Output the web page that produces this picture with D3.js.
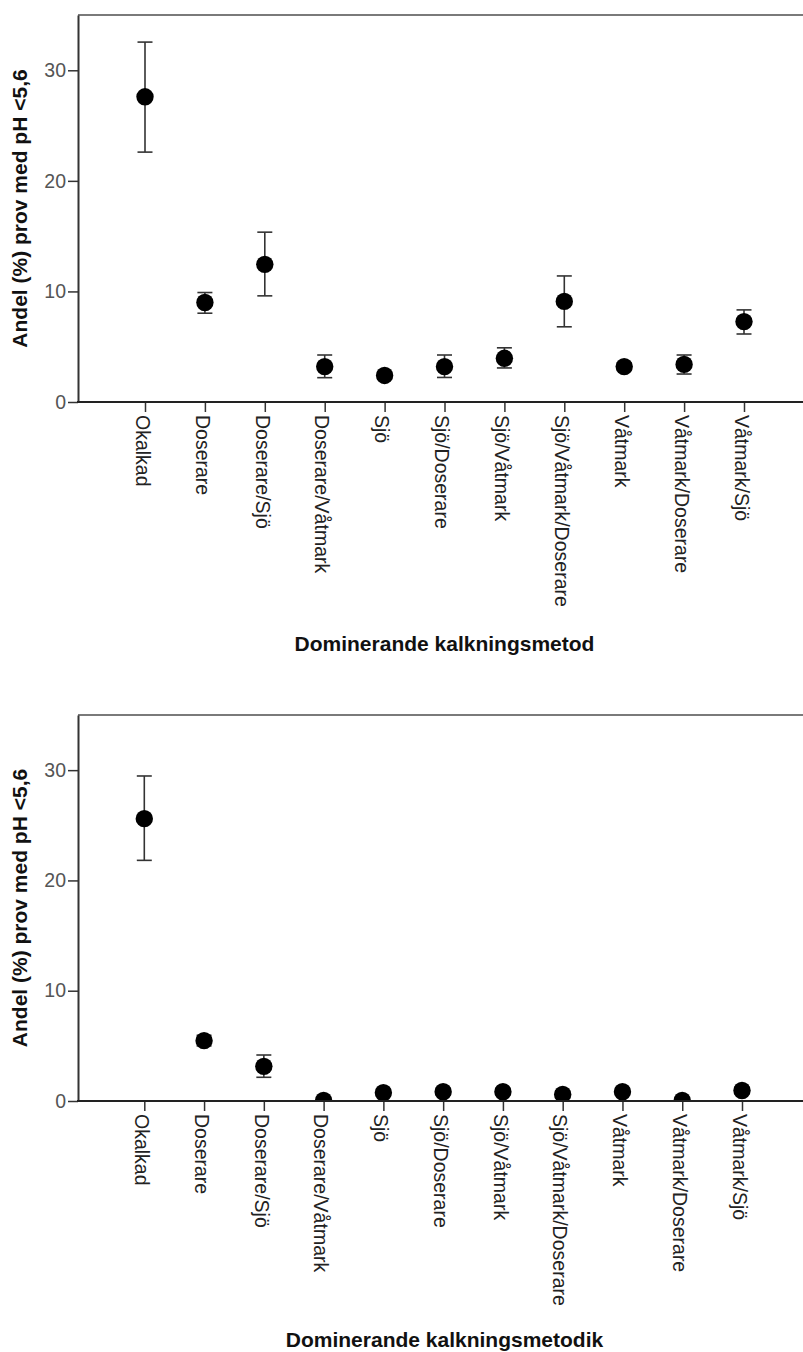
<!DOCTYPE html>
<html>
<head>
<meta charset="utf-8">
<script src="https://cdn.jsdelivr.net/npm/d3@7"></script>
<style>
  html, body { margin: 0; padding: 0; background: #fff; }
  svg { display: block; font-family: "Liberation Sans", Arial, Helvetica, sans-serif; }
</style>
</head>
<body>
<svg id="chart" width="803" height="1352"></svg>
<script>
// Categories: dominant liming method
const categories = [
  "Okalkad", "Doserare", "Doserare/Sjö", "Doserare/Våtmark", "Sjö",
  "Sjö/Doserare", "Sjö/Våtmark", "Sjö/Våtmark/Doserare", "Våtmark",
  "Våtmark/Doserare", "Våtmark/Sjö"
];

// Share (%) of samples with pH < 5.6 — mean with confidence interval
const meanMetod = [27.6, 9.0, 12.45, 3.2, 2.4, 3.2, 3.95, 9.1, 3.2, 3.4, 7.27];
const lowMetod  = [22.6, 8.03, 9.6, 2.2, 2.05, 2.22, 3.08, 6.8, 2.85, 2.53, 6.15];
const highMetod = [32.55, 9.9, 15.36, 4.25, 2.75, 4.25, 4.9, 11.4, 3.55, 4.25, 8.33];

const meanMetodik = [25.6, 5.47, 3.14, 0.05, 0.75, 0.84, 0.84, 0.6, 0.84, 0.05, 0.95];
const lowMetodik  = [21.82, 5.0, 2.15, 0.0, 0.45, 0.55, 0.55, 0.3, 0.55, 0.0, 0.65];
const highMetodik = [29.47, 5.95, 4.17, 0.25, 1.05, 1.15, 1.15, 0.9, 1.15, 0.25, 1.25];

const yTicks = [0, 10, 20, 30];
const yMax = 35;
const yTitle = "Andel (%) prov med pH <5,6";
const xTitles = ["Dominerande kalkningsmetod", "Dominerande kalkningsmetodik"];

const svg = d3.select("#chart");
const W = 803;
const plotLeft = 78;

const panels = [
  { mean: meanMetod, low: lowMetod, high: highMetod, title: xTitles[0],
    top: 15, bottom: 402, first: 145, last: 744, titleY: 651 },
  { mean: meanMetodik, low: lowMetodik, high: highMetodik, title: xTitles[1],
    top: 715, bottom: 1101, first: 144.3, last: 742, titleY: 1347 }
];

panels.forEach((p, pi) => {
  const g = svg.append("g");
  const x = d3.scalePoint().domain(categories).range([p.first, p.last]);
  const y = d3.scaleLinear().domain([0, yMax]).range([p.bottom, p.top]);

  const rows = categories.map((c, i) => ({ c, m: p.mean[i], lo: p.low[i], hi: p.high[i] }));

  // clip marks to the plot area
  const clipId = "clip" + pi;
  svg.append("clipPath").attr("id", clipId)
    .append("rect")
    .attr("x", plotLeft).attr("y", p.top)
    .attr("width", W - plotLeft).attr("height", p.bottom - p.top);

  // top frame line
  g.append("line")
    .attr("x1", plotLeft).attr("x2", W)
    .attr("y1", p.top).attr("y2", p.top)
    .attr("stroke", "#7a7a7a").attr("stroke-width", 2);

  // error bars
  const marks = g.append("g").attr("clip-path", `url(#${clipId})`);
  const cap = 7.5;
  const eb = marks.selectAll("g.eb").data(rows).join("g").attr("class", "eb")
    .attr("stroke", "#333").attr("stroke-width", 1.6);
  eb.append("line")
    .attr("x1", d => x(d.c)).attr("x2", d => x(d.c))
    .attr("y1", d => y(d.lo)).attr("y2", d => y(d.hi));
  eb.append("line")
    .attr("x1", d => x(d.c) - cap).attr("x2", d => x(d.c) + cap)
    .attr("y1", d => y(d.hi)).attr("y2", d => y(d.hi));
  eb.append("line")
    .attr("x1", d => x(d.c) - cap).attr("x2", d => x(d.c) + cap)
    .attr("y1", d => y(d.lo)).attr("y2", d => y(d.lo));

  // mean points
  marks.selectAll("circle").data(rows).join("circle")
    .attr("cx", d => x(d.c)).attr("cy", d => y(d.m))
    .attr("r", 8.7).attr("fill", "#000");

  // y axis
  const yAxis = g.append("g")
    .attr("transform", `translate(${plotLeft},0)`)
    .call(d3.axisLeft(y).tickValues(yTicks).tickSize(10).tickSizeOuter(0).tickPadding(2));
  yAxis.select(".domain").attr("stroke", "#333").attr("stroke-width", 2);
  yAxis.selectAll(".tick line").attr("stroke", "#333").attr("stroke-width", 1.5);
  yAxis.selectAll(".tick text")
    .attr("fill", "#555").style("font-size", "19.5px");

  // x axis
  const xAxis = g.append("g")
    .attr("transform", `translate(0,${p.bottom})`)
    .call(d3.axisBottom(x).tickSize(10).tickSizeOuter(0));
  xAxis.select(".domain").remove();
  xAxis.selectAll(".tick line").attr("stroke", "#333").attr("stroke-width", 1.5);
  xAxis.selectAll(".tick text")
    .attr("fill", "#222").style("font-size", "19.5px")
    .attr("x", 13).attr("y", 0).attr("dy", "0.5em")
    .attr("transform", "rotate(90)")
    .style("text-anchor", "start");
  g.append("line")
    .attr("x1", plotLeft - 1).attr("x2", W)
    .attr("y1", p.bottom).attr("y2", p.bottom)
    .attr("stroke", "#222").attr("stroke-width", 2);

  // axis titles
  g.append("text")
    .attr("transform", `translate(27,${(p.top + p.bottom) / 2}) rotate(-90)`)
    .attr("text-anchor", "middle")
    .style("font-size", "21px").style("font-weight", "bold").attr("fill", "#111")
    .text(yTitle);

  g.append("text")
    .attr("x", (plotLeft + 811) / 2).attr("y", p.titleY)
    .attr("text-anchor", "middle")
    .style("font-size", "21px").style("font-weight", "bold").attr("fill", "#111")
    .text(p.title);
});
</script>
</body>
</html>
